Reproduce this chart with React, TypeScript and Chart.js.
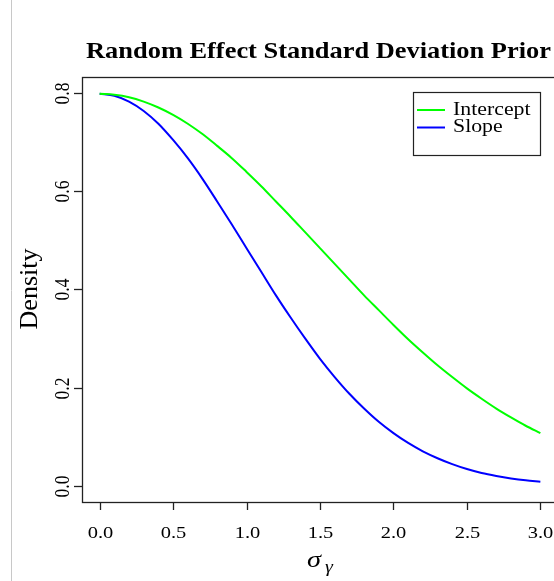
import React, { useEffect, useRef } from "react";
import { Chart, registerables } from "chart.js";

Chart.register(...registerables);

const SIGMA = [0.0, 0.1, 0.2, 0.3, 0.4, 0.5, 0.6, 0.7, 0.8, 0.9, 1.0, 1.1, 1.2, 1.3, 1.4, 1.5, 1.6, 1.7, 1.8, 1.9, 2.0, 2.1, 2.2, 2.3, 2.4, 2.5, 2.6, 2.7, 2.8, 2.9, 3.0];
const INTERCEPT = [0.798, 0.796, 0.791, 0.782, 0.770, 0.755, 0.737, 0.716, 0.692, 0.667, 0.639, 0.610, 0.579, 0.548, 0.516, 0.484, 0.452, 0.420, 0.388, 0.358, 0.328, 0.299, 0.272, 0.246, 0.222, 0.199, 0.178, 0.158, 0.140, 0.123, 0.108];
const SLOPE = [0.798, 0.794, 0.782, 0.763, 0.737, 0.704, 0.667, 0.625, 0.579, 0.532, 0.484, 0.436, 0.388, 0.343, 0.300, 0.259, 0.222, 0.188, 0.158, 0.131, 0.108, 0.088, 0.071, 0.057, 0.045, 0.035, 0.027, 0.021, 0.016, 0.012, 0.009];

const X_TICKS = [0, 0.5, 1.0, 1.5, 2.0, 2.5, 3.0];
const X_TICK_LABELS = ["0.0", "0.5", "1.0", "1.5", "2.0", "2.5", "3.0"];
const Y_TICKS = [0, 0.2, 0.4, 0.6, 0.8];
const Y_TICK_LABELS = ["0.0", "0.2", "0.4", "0.6", "0.8"];

const TITLE = "Random Effect Standard Deviation Prior";
const Y_TITLE = "Density";
const SERIES_NAMES = ["Intercept", "Slope"];
const SERIES_COLORS = ["#00ff00", "#0000ff"];

const SERIF = "'Liberation Serif', 'Times New Roman', serif";

function drawText(
  ctx: CanvasRenderingContext2D,
  str: string,
  x: number,
  y: number,
  font: string,
  align: CanvasTextAlign,
  baseline: CanvasTextBaseline,
  rot = 0,
  sx = 1.18
) {
  ctx.save();
  ctx.translate(x, y);
  ctx.scale(sx, 1);
  if (rot) ctx.rotate(rot);
  ctx.font = font;
  ctx.textAlign = align;
  ctx.textBaseline = baseline;
  ctx.fillStyle = "#000";
  ctx.fillText(str, 0, 0);
  ctx.restore();
}

const rPlot = {
  id: "rPlot",
  afterDraw(chart: any) {
    const ctx: CanvasRenderingContext2D = chart.ctx;
    const { left, right, top, bottom } = chart.chartArea;
    const xs = chart.scales.x;
    const ys = chart.scales.y;
    ctx.save();
    // gray border line at page left
    ctx.strokeStyle = "#c8c8c8";
    ctx.lineWidth = 1;
    ctx.beginPath();
    ctx.moveTo(11.5, 0);
    ctx.lineTo(11.5, chart.height);
    ctx.stroke();

    // box
    ctx.strokeStyle = "#222";
    ctx.lineWidth = 1.3;
    ctx.strokeRect(Math.round(left) + 0.5, Math.round(top) + 0.5, right - left, bottom - top);

    // y ticks
    Y_TICKS.forEach((v, i) => {
      const py = Math.round(ys.getPixelForValue(v)) + 0.5;
      ctx.beginPath();
      ctx.moveTo(left - 8, py);
      ctx.lineTo(left, py);
      ctx.stroke();
      drawText(ctx, Y_TICK_LABELS[i], left - 19, py, `17.5px ${SERIF}`, "center", "middle", -Math.PI / 2, 1.25);
    });
    // x ticks
    X_TICKS.forEach((v, i) => {
      const px = Math.round(xs.getPixelForValue(v)) + 0.5;
      ctx.beginPath();
      ctx.moveTo(px, bottom);
      ctx.lineTo(px, bottom + 8);
      ctx.stroke();
      drawText(ctx, X_TICK_LABELS[i], px, bottom + 31, `17.5px ${SERIF}`, "center", "middle", 0, 1.17);
    });

    // axis titles
    drawText(ctx, Y_TITLE, 30, 289, `26px ${SERIF}`, "center", "middle", -Math.PI / 2, 1.0);
    const cx = (left + right) / 2;
    drawText(ctx, "\u03c3", cx - 6, 561, `italic 24px ${SERIF}`, "center", "middle");
    drawText(ctx, "\u03b3", cx + 9, 568, `italic 17px ${SERIF}`, "center", "middle");

    // title
    drawText(ctx, TITLE, 318.5, 52, `bold 24px ${SERIF}`, "center", "middle", 0, 1.1);

    // legend
    ctx.strokeStyle = "#222";
    ctx.lineWidth = 1.2;
    ctx.strokeRect(413.5, 92.5, 127, 63);
    SERIES_NAMES.forEach((name, i) => {
      const ly = 110 + i * 17.5;
      ctx.strokeStyle = SERIES_COLORS[i];
      ctx.lineWidth = 2;
      ctx.beginPath();
      ctx.moveTo(417, ly);
      ctx.lineTo(445, ly);
      ctx.stroke();
      drawText(ctx, name, 453, ly, `18.5px ${SERIF}`, "left", "middle");
    });
    ctx.restore();
  },
};

export default function App() {
  const ref = useRef<HTMLCanvasElement>(null);
  useEffect(() => {
    if (!ref.current) return;
    const chart = new Chart(ref.current, {
      type: "line",
      data: {
        labels: SIGMA,
        datasets: [
          {
            label: SERIES_NAMES[0],
            data: SIGMA.map((x, i) => ({ x, y: INTERCEPT[i] })),
            borderColor: SERIES_COLORS[0],
            borderWidth: 2,
            pointRadius: 0,
            cubicInterpolationMode: "monotone",
          },
          {
            label: SERIES_NAMES[1],
            data: SIGMA.map((x, i) => ({ x, y: SLOPE[i] })),
            borderColor: SERIES_COLORS[1],
            borderWidth: 2,
            pointRadius: 0,
            cubicInterpolationMode: "monotone",
          },
        ],
      },
      options: {
        responsive: false,
        animation: false,
        layout: { padding: { left: 82, top: 77, right: 22, bottom: 79 } },
        scales: {
          x: { type: "linear", min: -0.12, max: 3.12, display: false },
          y: { type: "linear", min: -0.032, max: 0.832, display: false },
        },
        plugins: {
          legend: { display: false },
          title: { display: false },
          tooltip: { enabled: false },
        },
      },
      plugins: [rPlot],
    });
    return () => chart.destroy();
  }, []);
  return (
    <div style={{ position: "fixed", left: 0, top: 0, width: 554, height: 581, overflow: "hidden", background: "#fff" }}>
      <canvas ref={ref} width={580} height={581} />
    </div>
  );
}
